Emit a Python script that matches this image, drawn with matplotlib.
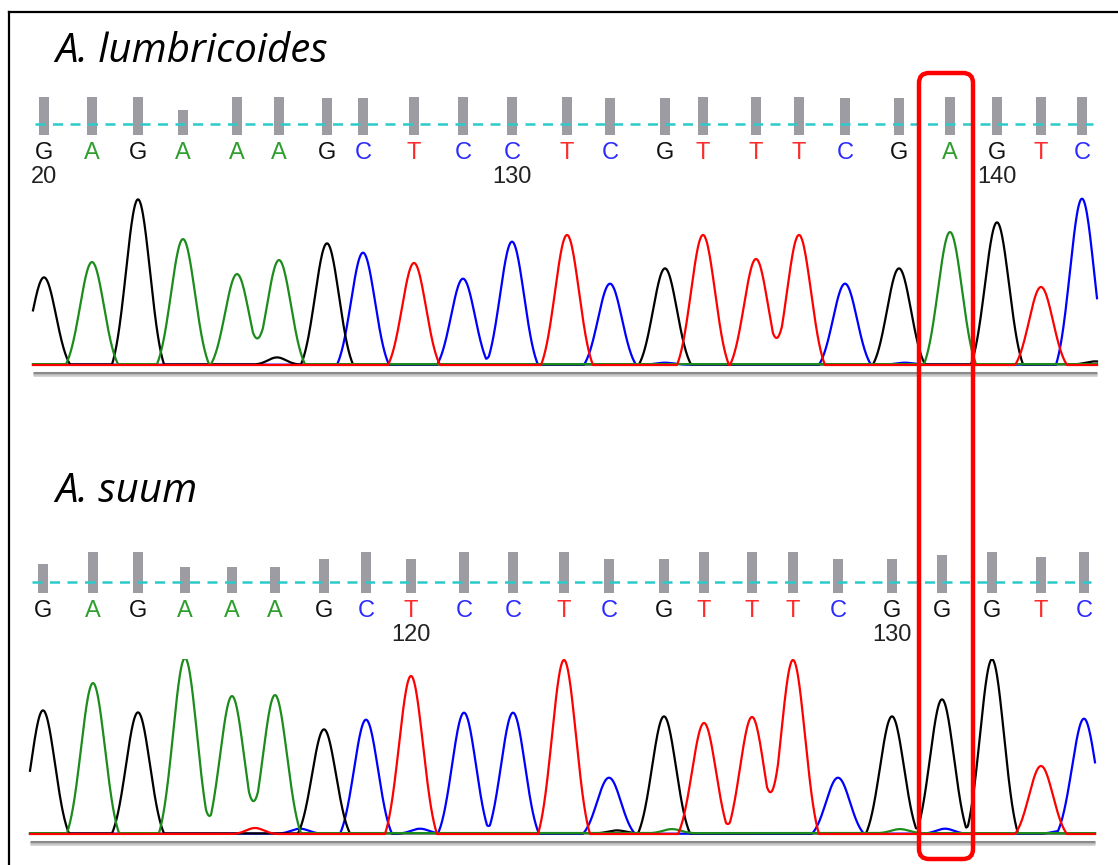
import numpy as np
import matplotlib
matplotlib.use("Agg")
import matplotlib.pyplot as plt
from matplotlib.patches import FancyBboxPatch

W, H = 1118, 865

# ── data: A. lumbricoides ────────────────────────────────────────────────
lum_seq   = "GAGAAAGCTCCTCGTTTCGAGTC"
lum_scan  = [44, 92, 138, 183, 237, 279, 327, 363, 414, 463, 512, 567,
             610, 665, 703, 756, 799, 845, 899, 950, 997, 1041, 1082]
lum_peak  = [87, 102, 165, 125, 90, 104, 121, 112, 102, 86, 123, 130,
             81, 96, 130, 106, 130, 81, 96, 132, 142, 78, 166]
lum_qv    = [38, 38, 38, 25, 38, 38, 37, 37, 38, 38, 38, 38,
             37, 37, 38, 38, 38, 37, 37, 38, 38, 38, 38]
lum_tick_idx = [0, 10, 20]
lum_tick_lab = ["20", "130", "140"]
# small background bumps: (base, scan, height)
lum_minor = [("G", 277, 7), ("C", 665, 2), ("C", 905, 2), ("G", 1095, 3)]

# ── data: A. suum ────────────────────────────────────────────────────────
suum_seq  = "GAGAAAGCTCCTCGTTTCGGGTC"
suum_scan = [43, 93, 138, 185, 232, 275, 324, 366, 411, 464, 513, 564,
             609, 664, 704, 752, 793, 838, 892, 942, 992, 1041, 1084]
suum_peak = [123, 150, 121, 175, 137, 138, 104, 114, 158, 121, 121, 174,
             56, 117, 111, 117, 174, 56, 117, 134, 174, 68, 115]
suum_qv   = [29, 41, 41, 26, 26, 26, 34, 41, 34, 41, 41, 41,
             34, 34, 41, 41, 41, 34, 34, 38, 41, 36, 41]
suum_tick_idx = [8, 18]
suum_tick_lab = ["120", "130"]
suum_minor = [("T", 255, 6), ("C", 300, 5), ("C", 420, 5), ("A", 672, 4),
              ("G", 617, 3), ("A", 900, 4), ("C", 945, 5), ("C", 1062, 3)]

HIGHLIGHT = 19          # the A/G difference
QV_LINE   = 11

TRACE_COL  = {"G": "#000000", "A": "#1c8c1c", "C": "#0000ff", "T": "#ff0000"}
LETTER_COL = {"G": "#111111", "A": "#2f9e2f", "C": "#2a2aff", "T": "#ff2a2a"}
BASE_OFF   = {"G": 0.6, "A": 0.9, "C": 0.3, "T": 0.0}
SIGMA, HALF_W = 12.0, 26.0

plt.rcParams["font.family"] = ["Liberation Sans", "DejaVu Sans"]
fig = plt.figure(figsize=(W / 100, H / 100), dpi=100)


def px_box(top, bottom):
    return [0, 1 - bottom / H, 1, (bottom - top) / H]


def peak_shape(dx, sigma, w):
    # gaussian trimmed to a finite base, like a basecaller trace
    c = np.exp(-w ** 2 / (2 * sigma ** 2))
    g = np.exp(-dx ** 2 / (2 * sigma ** 2))
    return np.clip((g - c) / (1 - c), 0, None)


def draw_panel(title, title_y, seq, scan, peak, qv, tick_idx, tick_lab,
               minor, qv_bottom, baseline, x0, x1):
    fig.text(55 / W, 1 - title_y / H, title, fontsize=29, style="italic",
             family="Open Sans", va="baseline", ha="left")

    # quality bars
    axq = fig.add_axes(px_box(qv_bottom - 45, qv_bottom))
    axq.set_xlim(0, W)
    axq.set_ylim(0, 45)
    axq.axis("off")
    axq.bar(scan, qv, width=10, color="#9c9ca2", clip_on=False, zorder=2)
    axq.plot([x0 + 2, x1 - 4], [QV_LINE, QV_LINE], color="#2ccaca",
             lw=1.8, ls=(0, (4, 3)), zorder=3)
    for b, x in zip(seq, scan):
        axq.annotate(b, (x, 0), xytext=(0, -18), textcoords="offset pixels",
                     ha="center", va="center", fontsize=17,
                     color=LETTER_COL[b])
    for i, lab in zip(tick_idx, tick_lab):
        axq.annotate(lab, (scan[i], 0), xytext=(0, -42),
                     textcoords="offset pixels", ha="center", va="center",
                     fontsize=17, color="#222222")

    # traces
    axt = fig.add_axes(px_box(baseline - 175, baseline + 15))
    axt.set_xlim(0, W)
    axt.set_ylim(-15, 175)
    axt.axis("off")
    xs = np.arange(x0, x1 + 0.5, 0.5)
    axt.plot([x0, x1], [-7.5, -7.5], color="#8a8a8a", lw=2.2,
             solid_capstyle="butt")
    axt.plot([x0, x1], [-10, -10], color="#c8c8c8", lw=1.8,
             solid_capstyle="butt")
    for ch in ["C", "G", "A", "T"]:
        y = np.full_like(xs, BASE_OFF[ch])
        for b, x, h in zip(seq, scan, peak):
            if b == ch:
                y += h * peak_shape(xs - x, SIGMA, HALF_W)
        for b, x, h in minor:
            if b == ch:
                y += h * peak_shape(xs - x, 9.0, 22.0)
        axt.plot(xs, y, color=TRACE_COL[ch], lw=1.6, zorder=3)
    return axt


draw_panel("A. lumbricoides", 62, lum_seq, lum_scan, lum_peak, lum_qv,
           lum_tick_idx, lum_tick_lab, lum_minor, 135, 365, 33, 1097)
draw_panel("A. suum", 502, suum_seq, suum_scan, suum_peak, suum_qv,
           suum_tick_idx, suum_tick_lab, suum_minor, 593, 834, 30, 1095)

# overlay: frame + highlight box
axo = fig.add_axes([0, 0, 1, 1], zorder=10)
axo.set_xlim(0, W)
axo.set_ylim(H, 0)
axo.axis("off")
axo.plot([8.5, W + 5], [12, 12], color="black", lw=1.6, clip_on=False)
axo.plot([8.5, 8.5], [12, H + 5], color="black", lw=1.6, clip_on=False)

cx = (lum_scan[HIGHLIGHT] + suum_scan[HIGHLIGHT]) / 2
box = FancyBboxPatch((cx - 27, 73), 54, 786,
                     boxstyle="round,pad=0,rounding_size=10",
                     fill=False, ec="#ff0000", lw=3.2)
axo.add_patch(box)

fig.savefig("out.png", dpi=100)
